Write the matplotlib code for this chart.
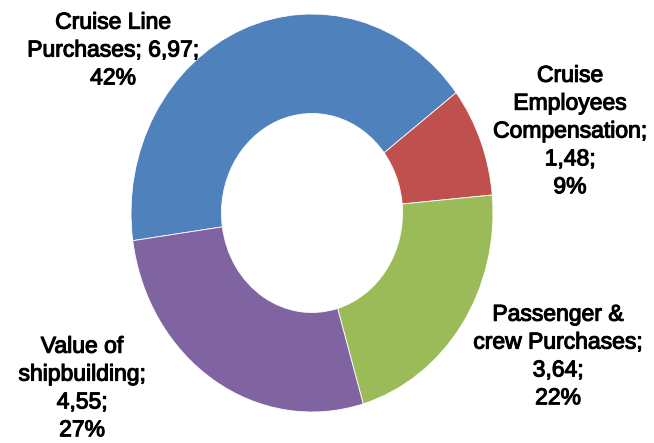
"""Donut chart of cruise industry economic contribution by component."""

import matplotlib.pyplot as plt
import matplotlib.patheffects as pe

plt.rcParams["font.family"] = ["Liberation Sans", "DejaVu Sans"]

CATEGORIES = [
    "Cruise Line\nPurchases",
    "Cruise\nEmployees\nCompensation",
    "Passenger &\ncrew Purchases",
    "Value of\nshipbuilding",
]
VALUES = [6.97, 1.48, 3.64, 4.55]
PERCENT_LABELS = ["42%", "9%", "22%", "27%"]
COLORS = ["#4f81bd", "#c0504d", "#9bbb59", "#8064a2"]

# label text is split differently per slice, as in the workbook
LABEL_TEMPLATES = [
    "{name}; {value};\n{pct}",
    "{name};\n{value};\n{pct}",
    "{name};\n{value};\n{pct}",
    "{name};\n{value};\n{pct}",
]
# label centres in pixels from the top-left corner
LABEL_POS_PX = [(113, 50), (570, 131), (558, 356), (82, 388)]

FIG_W, FIG_H = 654, 443
CENTER_PX = (312, 213)
RX_PX, RY_PX = 181, 199


def main() -> None:
    fig = plt.figure(figsize=(FIG_W / 100, FIG_H / 100), dpi=100)
    ax = fig.add_axes([0, 0, 1, 1])

    ax.pie(
        VALUES,
        colors=COLORS,
        startangle=188,
        counterclock=False,
        radius=1.0,
        wedgeprops=dict(width=0.5, edgecolor="white", linewidth=0.6),
    )
    # the drawing is slightly taller than wide, so let the axes stretch
    ax.set_aspect("auto")
    cx, cy = CENTER_PX[0], FIG_H - CENTER_PX[1]
    ax.set_xlim(-cx / RX_PX, (FIG_W - cx) / RX_PX)
    ax.set_ylim(-cy / RY_PX, (FIG_H - cy) / RY_PX)
    ax.axis("off")

    # a thin outline gives the labels a semibold look
    thicken = [pe.withStroke(linewidth=0.8, foreground="black")]
    for name, value, pct, template, (px, py) in zip(
        CATEGORIES, VALUES, PERCENT_LABELS, LABEL_TEMPLATES, LABEL_POS_PX
    ):
        text = template.format(name=name, value=f"{value:.2f}".replace(".", ","), pct=pct)
        ax.text(
            px / FIG_W,
            1 - py / FIG_H,
            text,
            transform=ax.transAxes,
            ha="center",
            va="center",
            multialignment="center",
            fontsize=16.5,
            color="black",
            linespacing=1.27,
            path_effects=thicken,
        )

    fig.savefig("out.png", dpi=100)
    plt.close(fig)


if __name__ == "__main__":
    main()
